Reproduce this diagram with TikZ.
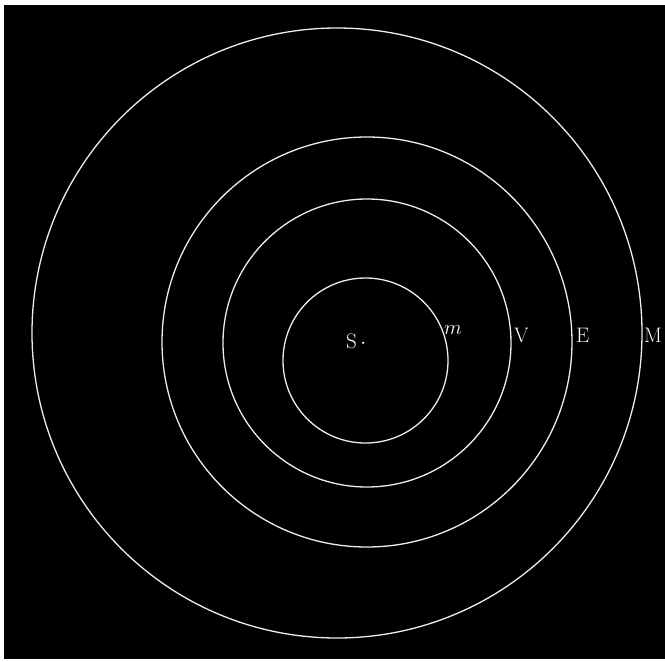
\documentclass[tikz,border=0pt]{standalone}
\usepackage{amsmath}
\usepackage{fontspec}
\usepackage{tikz}
\usetikzlibrary{calc}

\begin{document}
\begin{tikzpicture}[x=1pt,y=-1pt]
			\tikzstyle{orbit}=[draw=white!93!black,line width=1.3pt]
			\tikzstyle{body}=[text=white,inner sep=0pt,anchor=west,font=\fontsize{21}{25}\selectfont]

			\useasboundingbox (0,0) rectangle (665,662);
			\fill [black] (4,5) rectangle (665,659);

			\coordinate (cM) at (337,333);
			\coordinate (cE) at (367,342);
			\coordinate (cV) at (367,343);
			\coordinate (cm) at (365.5,360.5);

			\draw [orbit] (cM) circle [radius=305pt];
			\draw [orbit] (cE) circle [radius=205pt];
			\draw [orbit] (cV) circle [radius=144pt];
			\draw [orbit] (cm) circle [radius=82.5pt];

			\node (S) [body] at (346,341) {S$\,\cdot$};
			\node (m) [body, font=\fontsize{22}{26}\selectfont] at (444,330) {$m$};
			\node (V) [body] at (514,335) {V};
			\node (E) [body] at (576,335) {E};
			\node (M) [body] at (644,335) {M};
		\end{tikzpicture}
\end{document}
